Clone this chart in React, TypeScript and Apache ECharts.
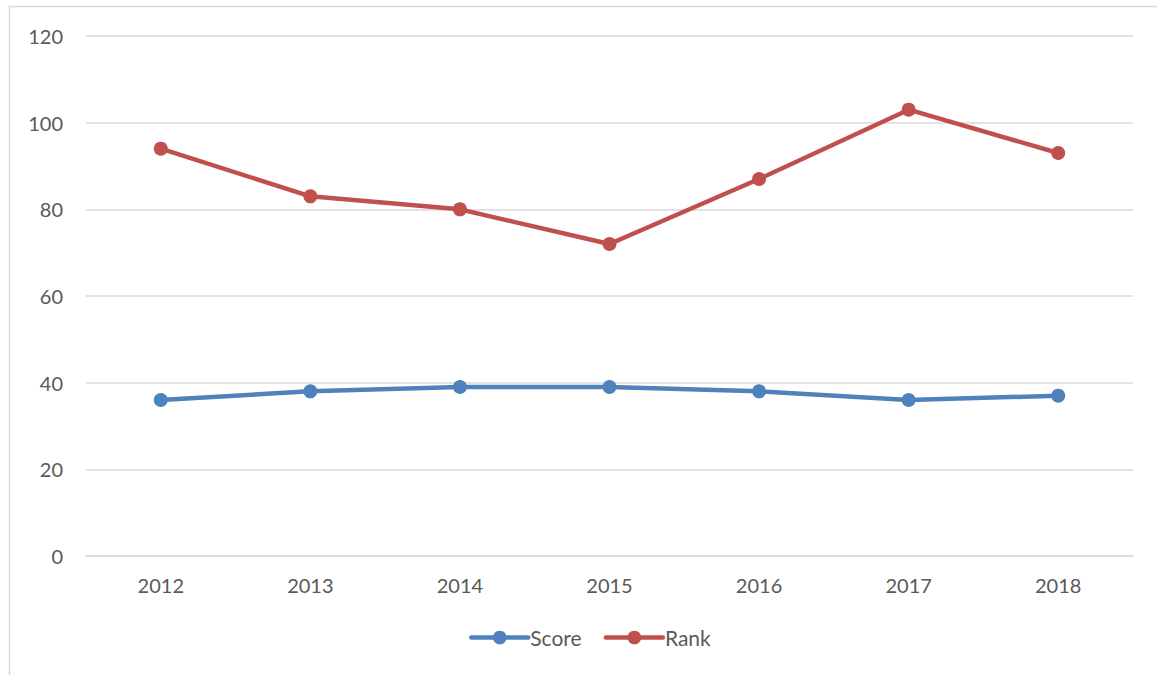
import React, { useEffect, useRef } from "react";
import * as echarts from "echarts";

const years = ["2012", "2013", "2014", "2015", "2016", "2017", "2018"];
const scoreValues = [36, 38, 39, 39, 38, 36, 37];
const rankValues = [94, 83, 80, 72, 87, 103, 93];
const yMin = 0;
const yMax = 120;
const yInterval = 20;

export default function App() {
  const ref = useRef<HTMLDivElement>(null);
  useEffect(() => {
    if (!ref.current) return;
    const chart = echarts.init(ref.current, null, { renderer: "svg" });
    const font = "Lato, Carlito, Calibri, sans-serif";
    chart.setOption({
      animation: false,
      backgroundColor: "#ffffff",
      textStyle: { fontFamily: font },
      graphic: [
        {
          type: "rect",
          shape: { x: 9.5, y: 6.5, width: 1170, height: 700 },
          style: { fill: "none", stroke: "#d9d9d9", lineWidth: 1.5 },
          silent: true,
        },
      ],
      grid: { left: 86, right: 24, top: 36, bottom: 119, containLabel: false },
      legend: {
        data: ["Score", "Rank"],
        top: 622,
        left: 464,
        itemWidth: 57,
        itemHeight: 17,
        itemGap: 22,
        lineStyle: { width: 4.5, cap: "round" },
        textStyle: { color: "#595959", fontSize: 21, fontFamily: font, padding: [0, 0, 0, -3] },
      },
      xAxis: {
        type: "category",
        data: years,
        boundaryGap: true,
        axisLine: { show: true, lineStyle: { color: "#d9d9d9", width: 1.5 } },
        axisTick: { show: false },
        axisLabel: { color: "#595959", fontSize: 20, fontFamily: font, margin: 19 },
        splitLine: { show: false },
      },
      yAxis: {
        type: "value",
        min: yMin,
        max: yMax,
        interval: yInterval,
        axisLine: { show: false },
        axisTick: { show: false },
        axisLabel: { color: "#595959", fontSize: 20, fontFamily: font, margin: 23 },
        splitLine: { lineStyle: { color: "#d9d9d9", width: 1.5 } },
      },
      series: [
        {
          name: "Score",
          type: "line",
          data: scoreValues,
          symbol: "circle",
          symbolSize: 14,
          color: "#4f81bd",
          lineStyle: { width: 4.5, color: "#4f81bd", cap: "round", join: "round" },
          itemStyle: { color: "#4f81bd" },
        },
        {
          name: "Rank",
          type: "line",
          data: rankValues,
          symbol: "circle",
          symbolSize: 14,
          color: "#c0504d",
          lineStyle: { width: 4.5, color: "#c0504d", cap: "round", join: "round" },
          itemStyle: { color: "#c0504d" },
        },
      ],
    });
    return () => chart.dispose();
  }, []);
  return (
    <div
      ref={ref}
      style={{ position: "fixed", left: 0, top: 0, width: 1157, height: 675 }}
    />
  );
}
